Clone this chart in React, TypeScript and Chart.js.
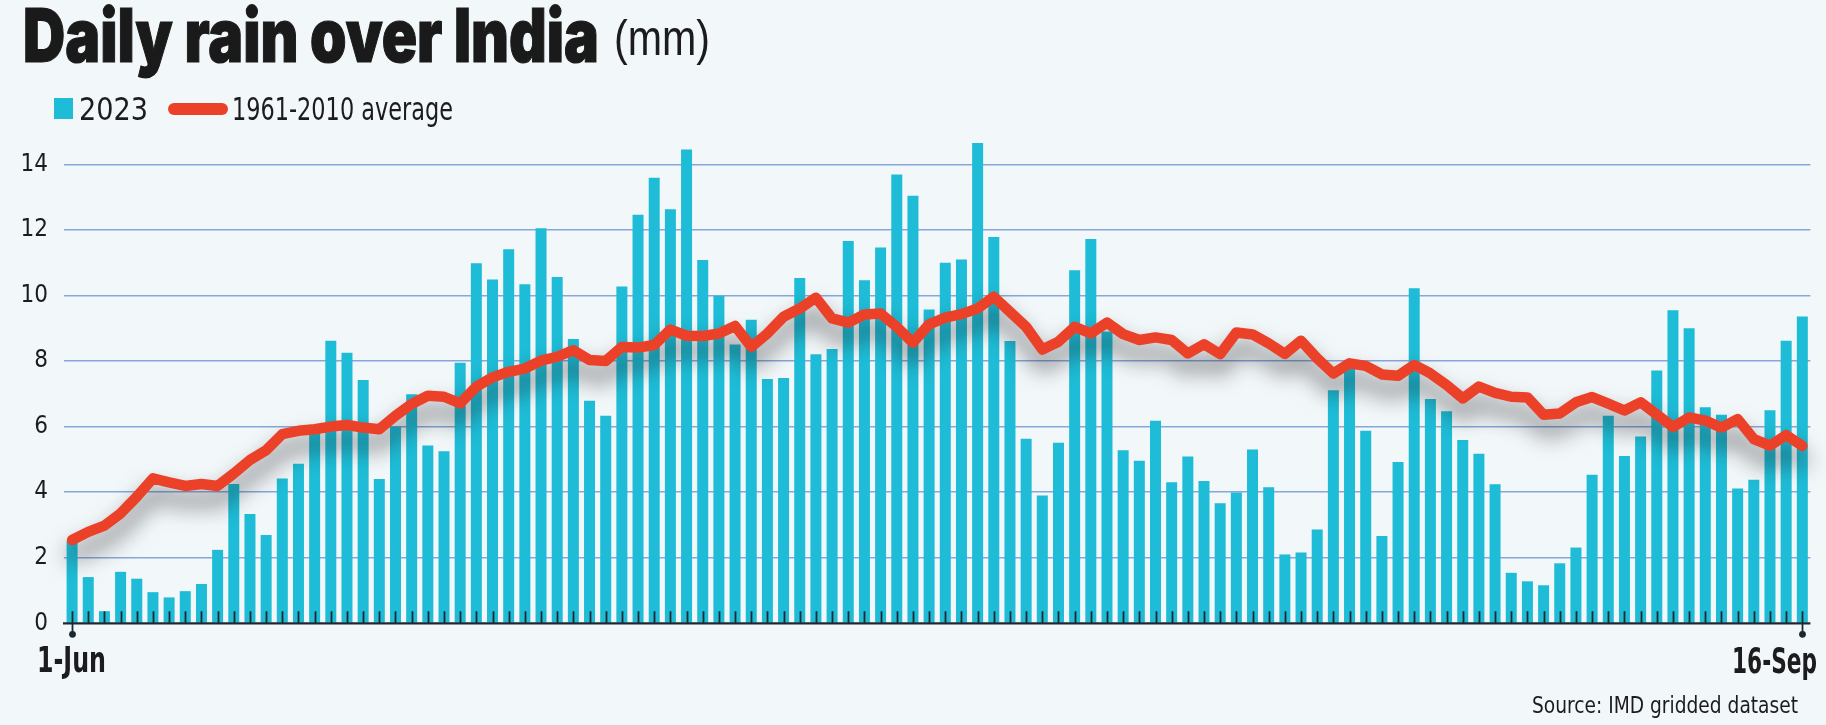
import React, { useEffect, useLayoutEffect, useRef } from "react";
import { Chart, registerables } from "chart.js";

Chart.register(...registerables);

// ---------- data ----------
const months: [string, number][] = [
  ["Jun", 30],
  ["Jul", 31],
  ["Aug", 31],
  ["Sep", 16],
];
const dayLabels: string[] = months.flatMap(([m, n]) =>
  Array.from({ length: n }, (_, i) => `${i + 1}-${m}`)
);

const rain2023: number[] = [
  2.5, 1.41, 0.37, 1.57, 1.36, 0.95, 0.79, 0.98, 1.2, 2.24,
  4.25, 3.33, 2.69, 4.42, 4.87, 5.8, 8.62, 8.25, 7.42, 4.4,
  6.0, 6.99, 5.42, 5.25, 7.95, 10.98, 10.49, 11.41, 10.34, 12.05,
  10.56, 8.67, 6.79, 6.33, 10.27, 12.46, 13.59, 12.63, 14.45, 11.08,
  9.99, 8.5, 9.26, 7.45, 7.48, 10.53, 8.21, 8.37, 11.66, 10.46,
  11.46, 13.69, 13.04, 9.57, 11.0, 11.1, 14.65, 11.78, 8.61, 5.63,
  3.9, 5.51, 10.77, 11.72, 8.9, 5.28, 4.96, 6.18, 4.3, 5.09,
  4.34, 3.66, 3.99, 5.3, 4.15, 2.1, 2.16, 2.86, 7.11, 7.8,
  5.87, 2.66, 4.92, 10.22, 6.84, 6.47, 5.59, 5.17, 4.24, 1.54,
  1.28, 1.16, 1.83, 2.31, 4.53, 6.33, 5.1, 5.7, 7.71, 9.55,
  9.0, 6.59, 6.36, 4.11, 4.38, 6.5, 8.62, 9.36,
];

const average: number[] = [
  2.54, 2.79, 2.98, 3.35, 3.86, 4.42, 4.3, 4.19, 4.25, 4.19,
  4.57, 4.98, 5.28, 5.77, 5.87, 5.92, 6.0, 6.05, 5.97, 5.92,
  6.33, 6.69, 6.94, 6.91, 6.71, 7.22, 7.5, 7.67, 7.77, 8.01,
  8.13, 8.33, 8.03, 8.0, 8.43, 8.41, 8.49, 8.96, 8.77, 8.76,
  8.84, 9.07, 8.43, 8.84, 9.35, 9.6, 9.93, 9.3, 9.17, 9.42,
  9.45, 9.04, 8.56, 9.12, 9.32, 9.43, 9.6, 9.96, 9.5, 9.04,
  8.35, 8.59, 9.04, 8.84, 9.17, 8.82, 8.64, 8.72, 8.64, 8.23,
  8.51, 8.21, 8.87, 8.81, 8.54, 8.22, 8.62, 8.08, 7.62, 7.93,
  7.85, 7.59, 7.55, 7.88, 7.62, 7.27, 6.86, 7.22, 7.03, 6.91,
  6.89, 6.36, 6.4, 6.74, 6.9, 6.7, 6.49, 6.74, 6.37, 5.99,
  6.28, 6.18, 5.97, 6.23, 5.62, 5.42, 5.74, 5.41,
];

const yTicks: number[] = [0, 2, 4, 6, 8, 10, 12, 14];
const xEndLabels: string[] = ["1-Jun", "16-Sep"];

// ---------- styles ----------
const BG = "#F2F7FA";
const BAR = "#1EBCD6";
const RED = "#EC4129";
const GRID = "#87A7D9";
const INK = "#1C1C1E";
const AXIS = "#1B2830";
const NARROW = '"Liberation Sans Narrow", "DejaVu Sans Condensed", "Liberation Sans", sans-serif';
const TITLE_FONT = '"Inter", "Lato", "Liberation Sans", sans-serif';
const TEXT_FONT = '"Liberation Sans", "Open Sans", sans-serif';

function FitText(props: {
  text: string;
  left: number;
  top: number;
  width: number;
  size: number;
  weight?: number;
  family?: string;
  color?: string;
  stroke?: string;
}) {
  const ref = useRef<HTMLSpanElement>(null);
  useLayoutEffect(() => {
    const el = ref.current;
    if (!el) return;
    el.style.transform = "none";
    const w = el.getBoundingClientRect().width;
    if (w > 0) el.style.transform = `scaleX(${props.width / w})`;
  }, [props.text, props.width, props.size]);
  return (
    <span
      ref={ref}
      style={{
        position: "absolute",
        left: props.left,
        top: props.top,
        fontSize: props.size,
        fontWeight: props.weight ?? 400,
        fontFamily: props.family ?? TEXT_FONT,
        color: props.color ?? INK,
        lineHeight: 1,
        whiteSpace: "nowrap",
        transformOrigin: "0 0",
        WebkitTextStroke: props.stroke,
      }}
    >
      {props.text}
    </span>
  );
}

const shadowPlugin = {
  id: "lineShadow",
  beforeDatasetDraw(chart: any, args: any) {
    if (args.index !== 0) return;
    const ctx = chart.ctx;
    ctx.save();
    ctx.shadowColor = "rgba(20,20,20,0.6)";
    ctx.shadowBlur = 22;
    ctx.shadowOffsetX = 0;
    ctx.shadowOffsetY = 15;
  },
  afterDatasetDraw(chart: any, args: any) {
    if (args.index !== 0) return;
    chart.ctx.restore();
  },
};

const axisPlugin = {
  id: "dayTicks",
  afterDatasetsDraw(chart: any) {
    const ctx = chart.ctx;
    const xs = chart.scales.x;
    const ys = chart.scales.y;
    const area = chart.chartArea;
    const y0 = ys.getPixelForValue(0);
    ctx.save();
    ctx.strokeStyle = AXIS;
    ctx.fillStyle = AXIS;
    ctx.lineWidth = 1.8;
    const n = chart.data.labels.length;
    for (let i = 0; i < n; i++) {
      const x = Math.round(xs.getPixelForValue(i)) + 0.5;
      const end = i === 0 || i === n - 1;
      ctx.beginPath();
      ctx.moveTo(x, y0 - 12);
      ctx.lineTo(x, end ? y0 + 11 : y0);
      ctx.stroke();
      if (end) {
        ctx.beginPath();
        ctx.arc(x, y0 + 11, 3.4, 0, Math.PI * 2);
        ctx.fill();
      }
    }
    ctx.lineWidth = 2.2;
    ctx.beginPath();
    ctx.moveTo(area.left - 1, y0);
    ctx.lineTo(area.right, y0);
    ctx.stroke();
    ctx.restore();
  },
};

export default function App() {
  const canvasRef = useRef<HTMLCanvasElement>(null);

  useEffect(() => {
    document.body.style.margin = "0";
    document.body.style.background = BG;
    const canvas = canvasRef.current;
    if (!canvas) return;
    const chart = new Chart(canvas, {
      type: "bar",
      data: {
        labels: dayLabels,
        datasets: [
          {
            type: "line",
            label: "1961-2010 average",
            data: average,
            borderColor: RED,
            borderWidth: 10.5,
            pointRadius: 0,
            tension: 0,
            borderCapStyle: "round",
            borderJoinStyle: "round",
            clip: false,
            order: 0,
          } as any,
          {
            type: "bar",
            label: "2023",
            data: rain2023,
            backgroundColor: BAR,
            borderWidth: 0,
            categoryPercentage: 1,
            barPercentage: 0.68,
            clip: false,
            order: 1,
          } as any,
        ],
      },
      options: {
        responsive: false,
        animation: false,
        events: [],
        layout: { padding: { left: 0, right: 15.6, top: 164.3, bottom: 101.7 } },
        plugins: {
          legend: { display: false },
          tooltip: { enabled: false },
          title: { display: false },
        },
        scales: {
          x: {
            type: "category",
            display: false,
            offset: true,
          },
          y: {
            min: 0,
            max: 14,
            afterFit: (s: any) => {
              s.width = 64;
            },
            afterBuildTicks: (s: any) => {
              s.ticks = yTicks.map((v) => ({ value: v }));
            },
            ticks: {
              color: INK,
              padding: 16,
              font: { family: NARROW, size: 24 },
              callback: (v: any) => String(v),
            },
            grid: {
              drawTicks: false,
              lineWidth: 1.6,
              color: (c: any) => (c.tick && c.tick.value === 0 ? "rgba(0,0,0,0)" : GRID),
            },
            border: { display: false },
          },
        },
      },
      plugins: [shadowPlugin, axisPlugin],
    });
    return () => chart.destroy();
  }, []);

  return (
    <div
      style={{
        position: "fixed",
        left: 0,
        top: 0,
        width: 1826,
        height: 725,
        background: BG,
        overflow: "hidden",
      }}
    >
      <canvas
        ref={canvasRef}
        width={1826}
        height={725}
        style={{ position: "absolute", left: 0, top: 0, width: 1826, height: 725 }}
      />
      <FitText text="Daily rain over India" left={23} top={-2} width={576} size={74} weight={900} family={TITLE_FONT} color="#1A1A1A" stroke="1.2px #1A1A1A" />
      <FitText text="(mm)" left={614} top={13} width={96} size={50} />
      <div style={{ position: "absolute", left: 54, top: 98, width: 19, height: 21, background: BAR }} />
      <FitText text="2023" left={79} top={93} width={69} size={32} family={NARROW} />
      <div style={{ position: "absolute", left: 168, top: 103, width: 60, height: 12, borderRadius: 6, background: RED }} />
      <FitText text="1961-2010 average" left={232} top={93} width={221} size={32} family={NARROW} />
      <FitText text={xEndLabels[0]} left={37} top={643} width={69} size={35} weight={700} family={NARROW} />
      <FitText text={xEndLabels[1]} left={1732} top={644} width={85} size={35} weight={700} family={NARROW} />
      <FitText text="Source: IMD gridded dataset" left={1532} top={694} width={266} size={22.5} family={NARROW} />
    </div>
  );
}
